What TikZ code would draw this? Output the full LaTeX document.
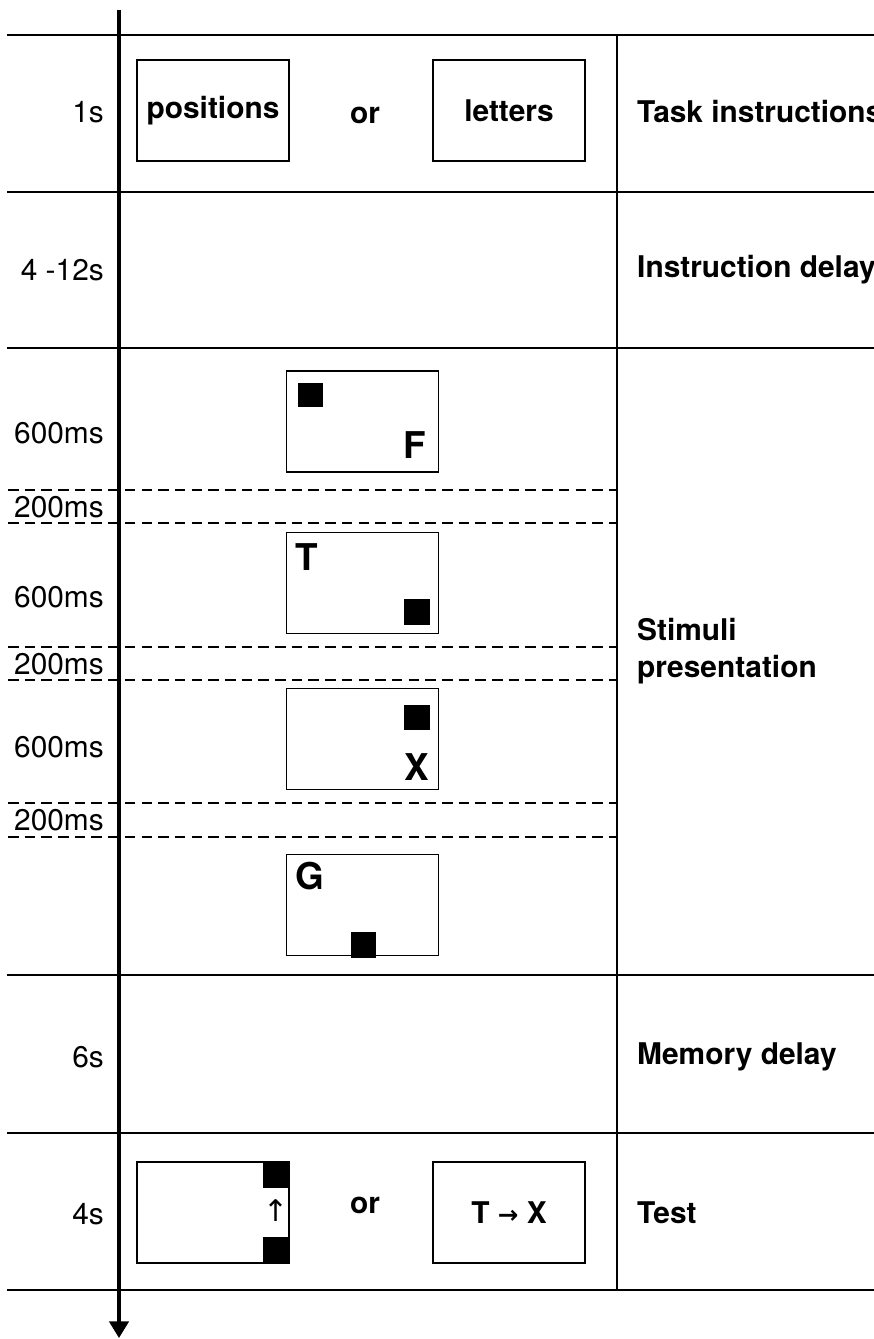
\documentclass[tikz,border=0pt]{standalone}
\usepackage{fontspec}
\setmainfont{TeX Gyre Heros}
\newfontfamily\arrowfont{DejaVu Sans}
\usetikzlibrary{arrows.meta}
\tikzset{
  rule/.style={line width=1.3pt},
  slot/.style={line width=0.8pt, dash pattern=on 6pt off 3.5pt},
  screen/.style={draw, line width=0.8pt, inner sep=0pt, minimum width=3.04cm, minimum height=2.02cm},
  time/.style={anchor=east, font=\fontsize{17}{20}\selectfont},
  phase/.style={anchor=west, align=left, font=\fontsize{17}{21}\selectfont\bfseries},
  word/.style={font=\fontsize{17}{20}\selectfont\bfseries},
  stim/.style={font=\fontsize{21}{24}\selectfont\bfseries}
}
\begin{document}
\begin{tikzpicture}[x=0.02cm, y=-0.02cm]
\useasboundingbox (0,0) rectangle (874,1339);

% phase borders
\foreach \y in {35,192,348,975,1133,1290}
    {
        \draw[rule] (7,\y) -- (874,\y);
    }
\draw[line width=0.8pt] (617,35) -- (617,1290);
\foreach \y in {490,523,647,680,803,837}
    {
        \draw[slot] (8,\y) -- (617,\y);
    }

% time axis
\coordinate (top) at (119,10);
\coordinate (bottom) at (119,1338);
\draw[line width=2pt, -{Triangle[length=9.5pt, width=11pt]}] (top) -- (bottom);

\foreach \t/\y [count=\i] in {1s/112, 4 -12s/270, 600ms/433, 200ms/507, 600ms/597, 200ms/664, 600ms/747, 200ms/820, 6s/1057, 4s/1214}
    {
        \node[time] (t\i) at (110,\y) {\t};
    }

\node[phase] (task) at (631,112) {Task instructions};
\node[phase] (idelay) at (631,270) {Instruction delay};
\node[phase] (stimuli) at (631,651) {Stimuli\\presentation};
\node[phase] (mdelay) at (631,1057) {Memory delay};
\node[phase] (test) at (631,1213) {Test};

% instructions
\node[screen, word] (pos) at (213,110.5) {positions};
\node[word] (or1) at (365,115) {or};
\node[screen, word] (let) at (509,110.5) {letters};

% stimuli
\node[screen] (s1) at (362.5,421.5) {};
\fill (298,383) rectangle ++(25,24);
\node[stim] (f) at (415,445) {F};

\node[screen] (s2) at (362.5,583) {};
\node[stim] (tt) at (307,557) {T};
\fill (404,599) rectangle ++(26,26);

\node[screen] (s3) at (362.5,739) {};
\fill (404,705) rectangle ++(26,25);
\node[stim] (x) at (417,767) {X};

\node[screen] (s4) at (362.5,905) {};
\node[stim] (g) at (310,876) {G};
\fill (351,932) rectangle ++(25,26);

% test
\node[screen] (probe) at (213,1212.5) {};
\fill (263,1162) rectangle ++(26,26);
\fill (263,1237) rectangle ++(26,26);
\node[font=\fontsize{17}{20}\selectfont\arrowfont] (up) at (276,1211) {↑};
\node[word] (or2) at (365,1205) {or};
\node[screen, word] (pair) at (509,1212.5) {T {\arrowfont\fontsize{14}{16}\selectfont→} X};
\end{tikzpicture}
\end{document}
